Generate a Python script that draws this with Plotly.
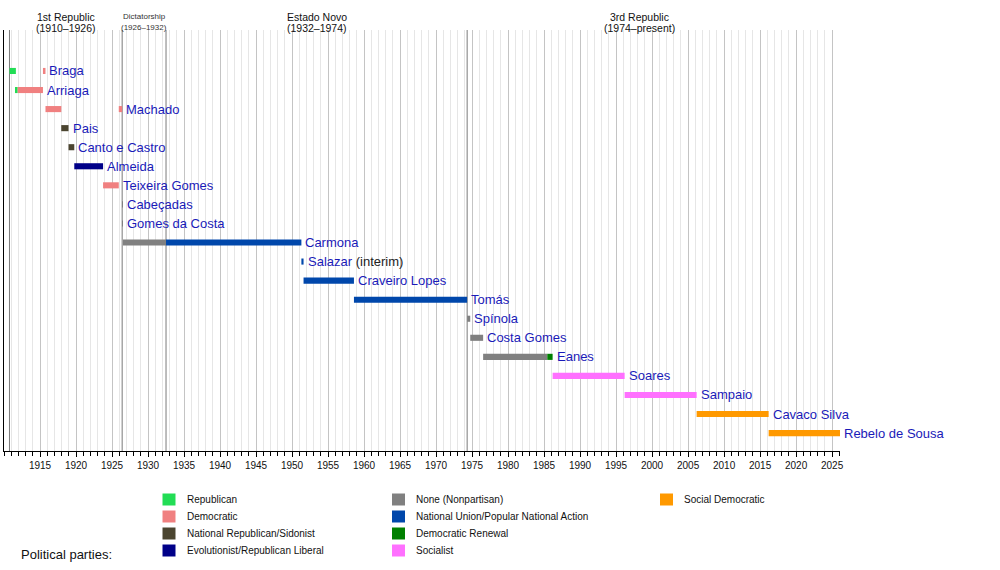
import plotly.graph_objects as go

# presidents, one row each (top to bottom)
presidents = ["Braga", "Arriaga", "Machado", "Pais", "Canto e Castro", "Almeida",
              "Teixeira Gomes", "Cabeçadas", "Gomes da Costa", "Carmona", "Salazar",
              "Craveiro Lopes", "Tomás", "Spínola", "Costa Gomes", "Eanes", "Soares",
              "Sampaio", "Cavaco Silva", "Rebelo de Sousa"]
name_suffix = {"Salazar": " (interim)"}

# terms in office (fractional years)
term_who = ["Braga", "Braga", "Arriaga", "Arriaga", "Machado", "Machado", "Pais",
            "Canto e Castro", "Almeida", "Teixeira Gomes", "Cabeçadas", "Gomes da Costa",
            "Carmona", "Carmona", "Salazar", "Craveiro Lopes", "Tomás", "Spínola",
            "Costa Gomes", "Eanes", "Eanes", "Soares", "Sampaio", "Cavaco Silva",
            "Rebelo de Sousa"]
term_start = [1910.76, 1915.41, 1911.65, 1911.90, 1915.76, 1925.94, 1917.95,
              1918.96, 1919.76, 1923.76, 1926.41, 1926.46,
              1926.52, 1932.50, 1951.30, 1951.60, 1958.60, 1974.32,
              1974.75, 1976.54, 1985.45, 1986.19, 1996.19, 2006.19,
              2016.19]
term_end = [1911.65, 1915.76, 1911.90, 1915.41, 1917.96, 1926.41, 1918.96,
            1919.76, 1923.76, 1925.94, 1926.46, 1926.52,
            1932.50, 1951.30, 1951.60, 1958.60, 1974.32, 1974.75,
            1976.54, 1985.45, 1986.19, 1996.19, 2006.19, 2016.19,
            2026.1]
term_party = ["Republican", "Democratic", "Republican", "Democratic", "Democratic",
              "Democratic", "National Republican/Sidonist", "National Republican/Sidonist",
              "Evolutionist/Republican Liberal", "Democratic", "None (Nonpartisan)",
              "None (Nonpartisan)", "None (Nonpartisan)", "National Union/Popular National Action",
              "National Union/Popular National Action", "National Union/Popular National Action",
              "National Union/Popular National Action", "None (Nonpartisan)",
              "None (Nonpartisan)", "None (Nonpartisan)", "Democratic Renewal",
              "Socialist", "Socialist", "Social Democratic", "Social Democratic"]

parties = ["Republican", "Democratic", "National Republican/Sidonist",
           "Evolutionist/Republican Liberal", "None (Nonpartisan)",
           "National Union/Popular National Action", "Democratic Renewal",
           "Socialist", "Social Democratic"]
party_colors = ["#22DD55", "#F08080", "#4B4530", "#000088", "#808080",
                "#0047AB", "#008000", "#FF70FF", "#FF9900"]

# regimes
era_names = ["1st Republic", "Dictatorship", "Estado Novo", "3rd Republic"]
era_years = ["(1910–1926)", "(1926–1932)", "(1932–1974)", "(1974–present)"]
era_label_x = [1918.6, 1929.45, 1953.4, 1998.2]
era_bounds = [1910.76, 1926.41, 1932.50, 1974.32]

tick_years = [1915, 1920, 1925, 1930, 1935, 1940, 1945, 1950, 1955, 1960, 1965,
              1970, 1975, 1980, 1985, 1990, 1995, 2000, 2005, 2010, 2015, 2020, 2025]

FONT = "Liberation Sans, Arial, Helvetica, sans-serif"
NAME_BLUE = "#1a1ab8"

fig = go.Figure()
for party, col in zip(parties, party_colors):
    idx = [i for i, p in enumerate(term_party) if p == party]
    fig.add_trace(go.Bar(
        orientation="h",
        y=[presidents.index(term_who[i]) for i in idx],
        base=[term_start[i] for i in idx],
        x=[term_end[i] - term_start[i] for i in idx],
        marker=dict(color=col, line=dict(width=0)),
        width=0.32, name=party, showlegend=False, hoverinfo="skip"))

annotations = []
for row, who in enumerate(presidents):
    end = max(e for w, e in zip(term_who, term_end) if w == who)
    txt = who
    if who in name_suffix:
        txt += "<span style='color:#222222'>" + name_suffix[who] + "</span>"
    annotations.append(dict(x=end, y=row, xref="x", yref="y", text=txt,
                            xanchor="left", yanchor="middle", xshift=2, showarrow=False,
                            font=dict(family=FONT, size=13, color=NAME_BLUE)))

for name, yrs, xm in zip(era_names, era_years, era_label_x):
    small = name == "Dictatorship"
    fs = 8 if small else 10.5
    col = "#333333" if small else "#111111"
    annotations.append(dict(x=xm, y=1, xref="x", yref="paper", text=name,
                            yanchor="middle", yshift=13.5, showarrow=False,
                            font=dict(family=FONT, size=fs, color=col)))
    annotations.append(dict(x=xm, y=1, xref="x", yref="paper", text=yrs,
                            yanchor="middle", yshift=2.5, showarrow=False,
                            font=dict(family=FONT, size=fs, color=col)))

shapes = []
for b in era_bounds:
    shapes.append(dict(type="line", x0=b, x1=b, y0=0, y1=1, xref="x", yref="paper",
                       line=dict(color="#7a7a7a", width=1), layer="below"))

# legend drawn by hand (pixel positions in the 1000x570 page)
def pxx(px):
    return (px - 4) / 836

def pxy(py):
    return (451 - py) / 421

leg_col_sq = [162.5, 392, 660]
leg_col_tx = [185, 414, 682]
leg_row_y = [499.5, 516.5, 533.5, 550.5]
for k, (party, col) in enumerate(zip(parties, party_colors)):
    c, r = k // 4, k % 4
    yc = leg_row_y[r]
    shapes.append(dict(type="rect", xref="paper", yref="paper",
                       x0=pxx(leg_col_sq[c]), x1=pxx(leg_col_sq[c] + 13),
                       y0=pxy(yc + 6), y1=pxy(yc - 6),
                       fillcolor=col, line=dict(width=0)))
    annotations.append(dict(x=pxx(leg_col_tx[c]), y=pxy(yc), xref="paper", yref="paper",
                            text=party, xanchor="left", yanchor="middle", showarrow=False,
                            font=dict(family=FONT, size=10, color="#111111")))
annotations.append(dict(x=pxx(19), y=pxy(554), xref="paper", yref="paper",
                        text="Political parties:", xanchor="left", yanchor="middle",
                        showarrow=False, font=dict(family=FONT, size=13, color="#111111")))

fig.update_layout(
    width=1000, height=570,
    margin=dict(l=4, r=160, t=30, b=119),
    paper_bgcolor="white", plot_bgcolor="white",
    barmode="overlay",
    showlegend=False,
    annotations=annotations,
    shapes=shapes,
    xaxis=dict(range=[1910, 2026.1], tickmode="array", tickvals=tick_years,
               ticks="outside", ticklen=5, tickcolor="black",
               showline=True, linecolor="black", linewidth=1,
               showgrid=True, gridcolor="#c4c4c4", gridwidth=1, zeroline=False,
               tickfont=dict(family=FONT, size=10, color="#111111"),
               minor=dict(tickmode="linear", tick0=1910, dtick=1, ticks="outside",
                          ticklen=4, tickcolor="black", showgrid=True,
                          gridcolor="#e6e6e6", gridwidth=1),
               fixedrange=True),
    yaxis=dict(range=[19.94, -2.15], showticklabels=False, showgrid=False,
               zeroline=False, showline=True, linecolor="black", linewidth=1,
               ticks="", fixedrange=True),
)

# page body has an 8px default margin; drop it so the figure sits at the corner
fig.write_html("out.html", config={"displayModeBar": False},
               post_script="document.body.style.margin='0';")
